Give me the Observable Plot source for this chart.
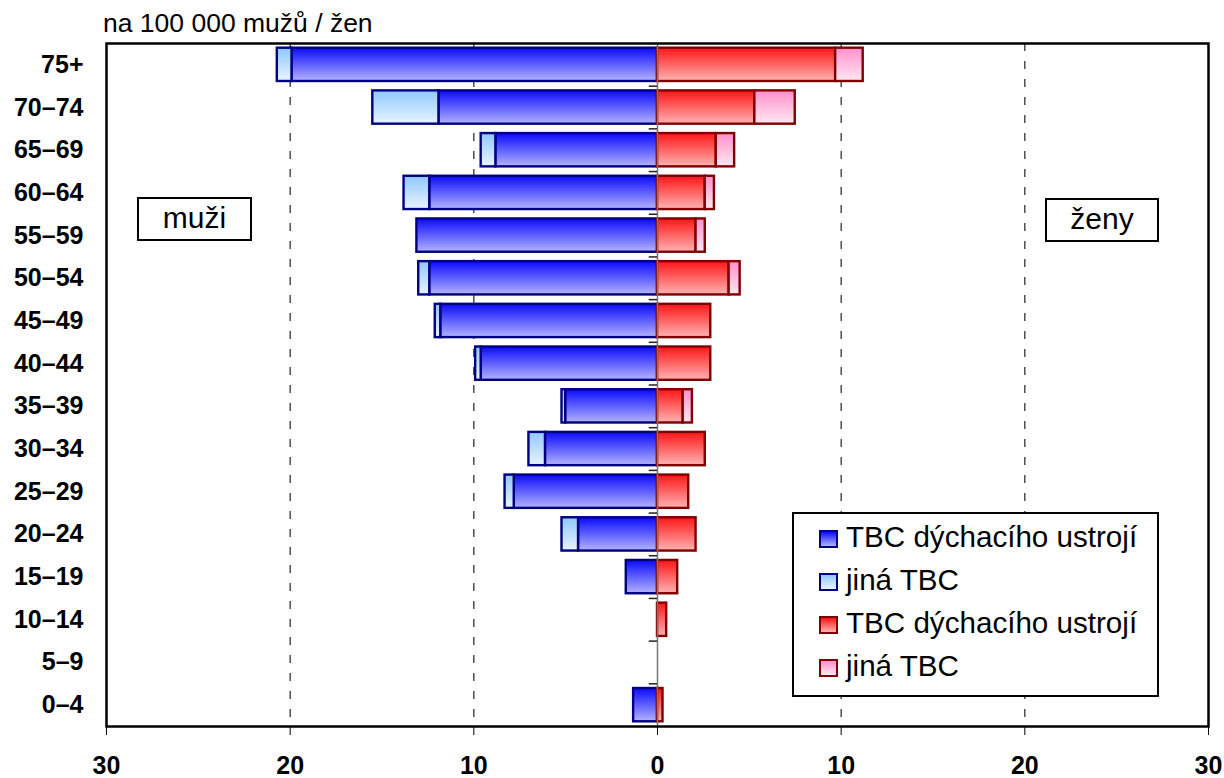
<!DOCTYPE html>
<html><head><meta charset="utf-8">
<script src="https://cdn.jsdelivr.net/npm/d3@7"></script>
<script src="https://cdn.jsdelivr.net/npm/@observablehq/plot@0.6"></script>
<style>
body{margin:0;background:#fff;font-family:"Liberation Sans",Arial,sans-serif;}
#wrap{position:relative;width:1224px;height:778px;overflow:hidden}
.abs{position:absolute;white-space:nowrap;color:#000}
#title{left:103px;top:10px;font-size:26.5px;line-height:26.5px}
.box{position:absolute;box-sizing:border-box;border:2px solid #000;background:#fff;text-align:center;font-size:30px;line-height:38px;color:#000}
#legend{position:absolute;left:792px;top:512px;width:367px;height:185px;box-sizing:border-box;border:2px solid #000;background:#fff}
.sw{position:absolute;width:19px;height:18px;box-sizing:border-box;border:2px solid}
.lt{position:absolute;font-size:29.6px;line-height:29.6px;white-space:nowrap}
g[aria-label="y-axis tick label"] text{font-weight:bold;font-size:25px}
g[aria-label="x-axis tick label"] text{font-weight:bold;font-size:25px}
</style></head>
<body>
<div id="wrap"></div>
<script>
// Age groups, top to bottom
const ages = ["75+","70–74","65–69","60–64","55–59","50–54","45–49","40–44","35–39","30–34","25–29","20–24","15–19","10–14","5–9","0–4"];
// muži (men), per 100 000
const maleResp  = [19.9, 11.9, 8.8, 12.4, 13.1, 12.4, 11.8, 9.6, 5.0, 6.1, 7.8, 4.3, 1.7, 0, 0, 1.3];
const maleOther = [0.8, 3.6, 0.8, 1.4, 0, 0.6, 0.3, 0.3, 0.2, 0.9, 0.5, 0.9, 0, 0, 0, 0];
// ženy (women), per 100 000
const femaleResp  = [9.7, 5.3, 3.2, 2.6, 2.1, 3.9, 2.9, 2.9, 1.4, 2.6, 1.7, 2.1, 1.1, 0.5, 0, 0.3];
const femaleOther = [1.5, 2.2, 1.0, 0.5, 0.5, 0.6, 0, 0, 0.5, 0, 0, 0, 0, 0, 0, 0];
const xTicks = [-30, -20, -10, 0, 10, 20, 30];
const gridX = [-20, -10, 10, 20];
const legendLabels = ["TBC dýchacího ustrojí", "jiná TBC", "TBC dýchacího ustrojí", "jiná TBC"];

const mR = ages.map((a, i) => ({age: a, x1: 0, x2: -maleResp[i]})).filter(d => d.x2 !== 0);
const mO = ages.map((a, i) => ({age: a, x1: -maleResp[i], x2: -(maleResp[i] + maleOther[i])})).filter(d => d.x1 !== d.x2);
const fR = ages.map((a, i) => ({age: a, x1: 0, x2: femaleResp[i]})).filter(d => d.x2 !== 0);
const fO = ages.map((a, i) => ({age: a, x1: femaleResp[i], x2: femaleResp[i] + femaleOther[i]})).filter(d => d.x1 !== d.x2);

const W = 1224, H = 778, mT = 43, mB = 52;
const step = (H - mT - mB) / ages.length;
const inset = step * 0.11;
const barOpts = {y: "age", x1: "x1", x2: "x2", insetTop: inset, insetBottom: inset, strokeWidth: 2.4};

const plot = Plot.plot({
  width: W, height: H,
  marginLeft: 106, marginRight: 16, marginTop: mT, marginBottom: mB,
  style: {fontFamily: '"Liberation Sans", Arial, sans-serif', fontSize: "25px", color: "#000", background: "#fff"},
  x: {domain: [-30, 30], label: null},
  y: {type: "band", domain: ages, padding: 0, round: false, label: null},
  marks: [
    Plot.ruleX(gridX, {stroke: "#222", strokeWidth: 1.2, strokeDasharray: "8,10"}),
    Plot.barX(mR, {...barOpts, fill: "url(#gBlue)", stroke: "#000080"}),
    Plot.barX(mO, {...barOpts, fill: "url(#gLight)", stroke: "#000080"}),
    Plot.barX(fR, {...barOpts, fill: "url(#gRed)", stroke: "#800000"}),
    Plot.barX(fO, {...barOpts, fill: "url(#gPink)", stroke: "#800000"}),
    Plot.ruleX([0], {stroke: "#777", strokeWidth: 1.5}),
    Plot.ruleY(ages.slice(0, -1), {x1: -0.45, x2: 0, dy: step / 2, stroke: "#222", strokeWidth: 1.5}),
    Plot.axisY({tickSize: 0, tickPadding: 23, label: null}),
    Plot.axisX(xTicks, {tickSize: 9, tickPadding: 21, stroke: "#000", tickFormat: d => Math.abs(d), label: null}),
    Plot.frame({stroke: "#000", strokeWidth: 2.5})
  ]
});

// gradient definitions
const ns = "http://www.w3.org/2000/svg";
const defs = document.createElementNS(ns, "defs");
const grads = {gBlue: ["#0a0aff", "#b3b3ff"], gLight: ["#8fc8ff", "#e8f4ff"], gRed: ["#ff1515", "#ffb3b3"], gPink: ["#ff8fcc", "#ffe8f2"]};
for (const [id, [c0, c1]] of Object.entries(grads)) {
  const g = document.createElementNS(ns, "linearGradient");
  g.setAttribute("id", id); g.setAttribute("x1", 0); g.setAttribute("y1", 0); g.setAttribute("x2", 0); g.setAttribute("y2", 1);
  [[0, c0], [1, c1]].forEach(([o, c]) => { const s = document.createElementNS(ns, "stop"); s.setAttribute("offset", o); s.setAttribute("stop-color", c); g.appendChild(s); });
  defs.appendChild(g);
}
plot.insertBefore(defs, plot.firstChild);

const wrap = document.getElementById("wrap");
wrap.appendChild(plot);
plot.style.position = "absolute"; plot.style.left = "0"; plot.style.top = "0";

function addDiv(cls, id, text, css) {
  const d = document.createElement("div");
  if (cls) d.className = cls; if (id) d.id = id;
  d.textContent = text || "";
  Object.assign(d.style, css || {});
  wrap.appendChild(d); return d;
}
addDiv("abs", "title", "na 100 000 mužů / žen");
addDiv("box", null, "muži", {left: "137px", top: "197px", width: "115px", height: "44px"});
addDiv("box", null, "ženy", {left: "1045px", top: "198px", width: "114px", height: "44px"});

const legend = addDiv(null, "legend", "");
const swStyles = [["#0a0aff", "#b3b3ff", "#000080"], ["#8fc8ff", "#e8f4ff", "#000080"], ["#ff1515", "#ffb3b3", "#800000"], ["#ff8fcc", "#ffe8f2", "#800000"]];
const baselines = [547, 590, 633, 676];
legendLabels.forEach((lab, i) => {
  const [c0, c1, b] = swStyles[i];
  const sw = document.createElement("div");
  sw.className = "sw";
  sw.style.left = (819 - 792 - 2) + "px";
  sw.style.top = (baselines[i] - 17 - 512 - 2) + "px";
  sw.style.background = `linear-gradient(${c0}, ${c1})`;
  sw.style.borderColor = b;
  legend.appendChild(sw);
  const t = document.createElement("div");
  t.className = "lt"; t.textContent = lab;
  t.style.left = (846 - 792 - 2) + "px";
  t.style.top = (baselines[i] - 25 - 512 - 2) + "px";
  legend.appendChild(t);
});
</script>
</body></html>
